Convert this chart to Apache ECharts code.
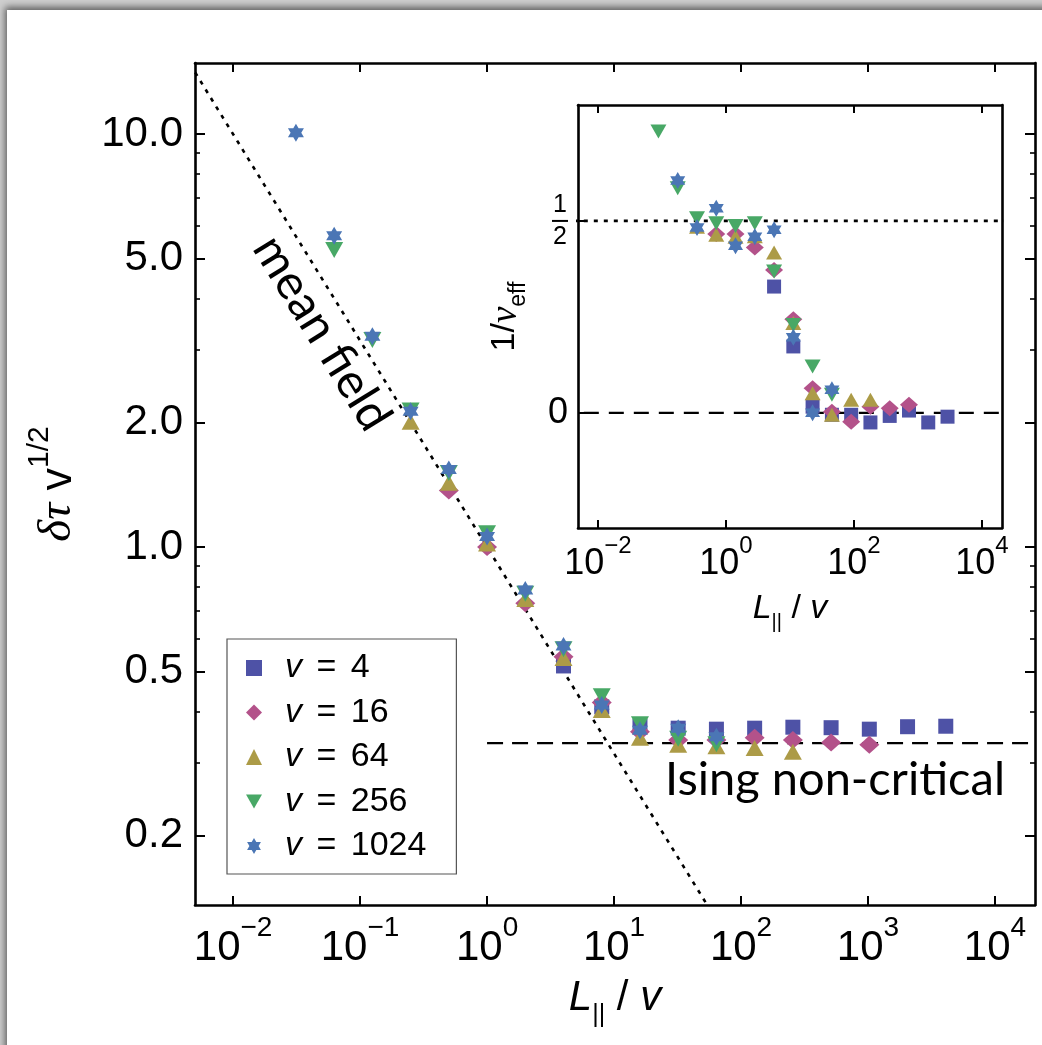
<!DOCTYPE html>
<html>
<head>
<meta charset="utf-8">
<script src="https://cdn.jsdelivr.net/npm/echarts@6/dist/echarts.min.js"></script>
<style>
html, body { margin: 0; padding: 0; width: 1042px; height: 1045px; overflow: hidden; background: #cfcfcf; }
#sheet { position: absolute; left: 7px; top: 10px; width: 1100px; height: 1100px; background: #fff; box-shadow: -2px -3px 7px rgba(0,0,0,0.55); }
#chart { position: absolute; left: 0; top: 0; width: 1042px; height: 1045px; }
</style>
</head>
<body>
<div id="sheet"></div>
<div id="chart"></div>
<script>
// ---- main panel: scaled gap delta-tau * v^(1/2) versus L_par / v ----
const v4X = [4, 8, 16, 32, 64, 128, 256, 512, 1024, 2048, 4096];
const v4Y = [0.515, 0.41, 0.368, 0.364, 0.362, 0.364, 0.366, 0.365, 0.362, 0.367, 0.368];

const v16X = [0.5, 1, 2, 4, 8, 16, 32, 64, 128, 256, 512, 1024];
const v16Y = [1.37, 1.0, 0.731, 0.542, 0.42, 0.357, 0.341, 0.341, 0.345, 0.341, 0.336, 0.332];

const v64X = [0.25, 0.5, 1, 2, 4, 8, 16, 32, 64, 128, 256];
const v64Y = [2.01, 1.43, 1.02, 0.748, 0.538, 0.403, 0.345, 0.332, 0.329, 0.326, 0.319];

const v256X = [0.0625, 0.125, 0.25, 0.5, 1, 2, 4, 8, 16, 32, 64];
const v256Y = [5.24, 3.17, 2.14, 1.51, 1.08, 0.77, 0.565, 0.435, 0.372, 0.343, 0.333];

const v1024X = [0.03125, 0.0625, 0.125, 0.25, 0.5, 1, 2, 4, 8, 16, 32, 64];
const v1024Y = [10.07, 5.67, 3.24, 2.13, 1.54, 1.06, 0.787, 0.576, 0.414, 0.36, 0.364, 0.347];

// reference lines: mean-field power law and the Ising non-critical plateau
const meanFieldLine = [[0.001, 31.6], [1000, 0.0316]];
const isingLine = [[1, 0.335], [100000, 0.335]];

// ---- inset: effective exponent 1/nu_eff versus L_par / v ----
const v4InsetX = [5.66, 11.31, 22.6, 45.3, 90.5, 181, 362, 724, 1448, 2896];
const v4InsetY = [0.329, 0.173, 0.016, -0.005, -0.005, -0.025, -0.008, 0.006, -0.025, -0.01];

const v16InsetX = [0.707, 1.414, 2.83, 5.66, 11.31, 22.6, 45.3, 90.5, 181, 362, 724];
const v16InsetY = [0.466, 0.466, 0.431, 0.372, 0.244, 0.064, 0.003, -0.023, 0.016, 0.012, 0.021];

const v64InsetX = [0.354, 0.707, 1.414, 2.83, 5.66, 11.31, 22.6, 45.3, 90.5, 181];
const v64InsetY = [0.485, 0.464, 0.459, 0.46, 0.418, 0.234, 0.051, -0.005, 0.034, 0.034];

const v256InsetX = [0.0884, 0.177, 0.354, 0.707, 1.414, 2.83, 5.66, 11.31, 22.6, 45.3];
const v256InsetY = [0.733, 0.585, 0.507, 0.494, 0.487, 0.494, 0.368, 0.229, 0.121, 0.047];

const v1024InsetX = [0.0442, 0.0884, 0.177, 0.354, 0.707, 1.414, 2.83, 5.66, 11.31, 22.6, 45.3];
const v1024InsetY = [0.83, 0.81, 0.605, 0.483, 0.533, 0.435, 0.459, 0.477, 0.197, 0.0, 0.06];

const meanFieldExponent = [[0.001, 0.5], [100000, 0.5]];
const zeroExponent = [[0.001, 0], [100000, 0]];

// ---- tick values ----
const mainXTicks = [0.01, 0.1, 1, 10, 100, 1000, 10000];
const mainYTicks = [0.2, 0.5, 1, 2, 5, 10];
const mainYMinor = [0.3, 0.4, 0.6, 0.7, 0.8, 0.9, 3, 4, 6, 7, 8, 9];
const insetXTicks = [0.01, 1, 100, 10000];
const insetYTicks = [0, 0.5];

const seriesNames = ['v = 4', 'v = 16', 'v = 64', 'v = 256', 'v = 1024'];

const zip = (xs, ys) => xs.map((x, i) => [x, ys[i]]);

const SANS = 'Liberation Sans, Arial, Helvetica, sans-serif';
const SERIF = 'Liberation Serif, Times New Roman, serif';
const ANNOT = 'Lato, Open Sans, sans-serif';

const hexagram = 'path://M0,-10L2.887,-5L8.66,-5L5.774,0L8.66,5L2.887,5L0,10L-2.887,5L-8.66,5L-5.774,0L-8.66,-5L-2.887,-5Z';
const downTriangle = 'path://M-10,-8.66L10,-8.66L0,8.66Z';

const styles = [
  { color: '#4E52A6', symbol: 'rect', size: 15, insetSize: 14 },
  { color: '#B3528A', symbol: 'diamond', size: [20, 18], insetSize: [18, 16] },
  { color: '#AC9B47', symbol: 'triangle', size: [18, 16], insetSize: [16, 14] },
  { color: '#48A866', symbol: downTriangle, size: [18, 16], insetSize: [16, 14] },
  { color: '#4B76B5', symbol: hexagram, size: [16, 18], insetSize: [15, 17] }
];

const mainData = [zip(v4X, v4Y), zip(v16X, v16Y), zip(v64X, v64Y), zip(v256X, v256Y), zip(v1024X, v1024Y)];
const insetData = [
  zip(v4InsetX, v4InsetY), zip(v16InsetX, v16InsetY), zip(v64InsetX, v64InsetY),
  zip(v256InsetX, v256InsetY), zip(v1024InsetX, v1024InsetY)
];

function powerLabel(v) {
  const e = Math.round(Math.log10(v));
  return '{b|10}{s|' + (e < 0 ? '\u2212' + (-e) : String(e)) + '}';
}

const AX = { color: '#000', width: 2.6 };

function powRich(base, sup) {
  return {
    b: { fontFamily: SANS, fontSize: base, lineHeight: base * 1.33, verticalAlign: 'bottom', color: '#000' },
    s: { fontFamily: SANS, fontSize: sup, lineHeight: sup, verticalAlign: 'top', color: '#000' }
  };
}

function ratioTitle(size, subSize) {
  return {
    i: { fontFamily: SANS, fontStyle: 'italic', fontSize: size, lineHeight: size * 1.2, verticalAlign: 'top', color: '#000' },
    t: { fontFamily: SANS, fontSize: size, lineHeight: size * 1.2, verticalAlign: 'top', color: '#000' },
    sub: { fontFamily: SANS, fontSize: subSize, lineHeight: subSize, verticalAlign: 'bottom', color: '#000' }
  };
}

const xAxes = [
  { // main bottom
    type: 'log', gridIndex: 0, position: 'bottom', min: 0.005012, max: 20654,
    axisLine: { show: true, onZero: false, lineStyle: AX },
    axisTick: { show: true, inside: true, length: 9, customValues: mainXTicks, lineStyle: { color: '#000', width: 2 } },
    axisLabel: { show: true, customValues: mainXTicks, formatter: powerLabel, margin: 9, rich: powRich(42, 28) },
    splitLine: { show: false }, minorTick: { show: false },
    name: '{i|L}{sub|||}{t| / }{i|v}', nameLocation: 'middle', nameGap: 72,
    nameTextStyle: { rich: ratioTitle(42, 25) }
  },
  { // main top
    type: 'log', gridIndex: 0, position: 'top', min: 0.005012, max: 20654,
    axisLine: { show: true, onZero: false, lineStyle: AX },
    axisTick: { show: true, inside: true, length: 9, customValues: mainXTicks, lineStyle: { color: '#000', width: 2 } },
    axisLabel: { show: false }, splitLine: { show: false }
  },
  { // inset bottom
    type: 'log', gridIndex: 1, position: 'bottom', min: 0.0049, max: 20540,
    axisLine: { show: true, onZero: false, lineStyle: AX },
    axisTick: { show: true, inside: true, length: 8, customValues: insetXTicks, lineStyle: { color: '#000', width: 2 } },
    axisLabel: { show: true, customValues: insetXTicks, formatter: powerLabel, margin: 6, rich: powRich(36, 24) },
    splitLine: { show: false },
    name: '{i|L}{sub|||}{t| / }{i|v}', nameLocation: 'middle', nameGap: 64,
    nameTextStyle: { rich: ratioTitle(34, 20) }
  },
  { // inset top
    type: 'log', gridIndex: 1, position: 'top', min: 0.0049, max: 20540,
    axisLine: { show: true, onZero: false, lineStyle: AX },
    axisTick: { show: true, inside: true, length: 8, customValues: insetXTicks, lineStyle: { color: '#000', width: 2 } },
    axisLabel: { show: false }, splitLine: { show: false }
  }
];

const yAxes = [
  { // main left
    type: 'log', gridIndex: 0, position: 'left', min: 0.1358, max: 14.86,
    axisLine: { show: true, onZero: false, lineStyle: AX },
    axisTick: { show: true, inside: true, length: 10, customValues: mainYTicks, lineStyle: { color: '#000', width: 2 } },
    axisLabel: { show: true, customValues: mainYTicks, formatter: v => v.toFixed(1), margin: 12, fontFamily: SANS, fontSize: 42, color: '#000' },
    splitLine: { show: false },
    name: '{g|\u03b4\u03c4}{t| v}{s|1/2}', nameLocation: 'middle', nameRotate: 90, nameGap: 114,
    nameTextStyle: {
      padding: [0, 0, 0, 0],
      rich: {
        g: { fontFamily: SERIF, fontStyle: 'italic', fontSize: 47, lineHeight: 56, verticalAlign: 'bottom', color: '#000' },
        t: { fontFamily: SANS, fontSize: 45, lineHeight: 56, verticalAlign: 'bottom', color: '#000' },
        s: { fontFamily: SANS, fontSize: 30, lineHeight: 30, verticalAlign: 'top', color: '#000' }
      }
    }
  },
  { // main right
    type: 'log', gridIndex: 0, position: 'right', min: 0.1358, max: 14.86,
    axisLine: { show: true, onZero: false, lineStyle: AX },
    axisTick: { show: true, inside: true, length: 10, customValues: mainYTicks, lineStyle: { color: '#000', width: 2 } },
    axisLabel: { show: false }, splitLine: { show: false }
  },
  { // main left minor ticks
    type: 'log', gridIndex: 0, position: 'left', min: 0.1358, max: 14.86,
    axisLine: { show: false },
    axisTick: { show: true, inside: true, length: 5, customValues: mainYMinor, lineStyle: { color: '#000', width: 1.6 } },
    axisLabel: { show: false }, splitLine: { show: false }
  },
  { // main right minor ticks
    type: 'log', gridIndex: 0, position: 'right', min: 0.1358, max: 14.86,
    axisLine: { show: false },
    axisTick: { show: true, inside: true, length: 5, customValues: mainYMinor, lineStyle: { color: '#000', width: 1.6 } },
    axisLabel: { show: false }, splitLine: { show: false }
  },
  { // inset left
    type: 'value', gridIndex: 1, position: 'left', min: -0.3, max: 0.802,
    axisLine: { show: true, onZero: false, lineStyle: AX },
    axisTick: { show: true, inside: true, length: 8, customValues: insetYTicks, lineStyle: { color: '#000', width: 2 } },
    axisLabel: {
      show: true, customValues: insetYTicks, margin: 10, color: '#000',
      formatter: v => (Math.abs(v) < 1e-9 ? '{z|0}' : '{n|1}\n{bar| }\n{d|2}'),
      rich: {
        z: { fontFamily: SANS, fontSize: 36, color: '#000' },
        n: { fontFamily: SANS, fontSize: 25, lineHeight: 24, align: 'center', color: '#000' },
        d: { fontFamily: SANS, fontSize: 25, lineHeight: 24, align: 'center', color: '#000' },
        bar: { width: 16, height: 2, lineHeight: 8, backgroundColor: '#000', align: 'center', fontSize: 4 }
      }
    },
    splitLine: { show: false },
    name: '{a|1/}{g|\u03bd}{s|eff}', nameLocation: 'middle', nameRotate: 90, nameGap: 48,
    nameTextStyle: {
      rich: {
        a: { fontFamily: SANS, fontSize: 34, lineHeight: 42, verticalAlign: 'top', color: '#000' },
        g: { fontFamily: SERIF, fontStyle: 'italic', fontSize: 37, lineHeight: 42, verticalAlign: 'top', color: '#000' },
        s: { fontFamily: SANS, fontSize: 23, lineHeight: 23, verticalAlign: 'bottom', color: '#000' }
      }
    }
  },
  { // inset right
    type: 'value', gridIndex: 1, position: 'right', min: -0.3, max: 0.802,
    axisLine: { show: true, onZero: false, lineStyle: AX },
    axisTick: { show: false }, axisLabel: { show: false }, splitLine: { show: false }
  }
];

const series = [
  {
    type: 'line', xAxisIndex: 0, yAxisIndex: 0, data: meanFieldLine, symbol: 'none', silent: true, clip: true,
    lineStyle: { color: '#000', width: 2.6, type: [4, 6] }, z: 1
  },
  {
    type: 'line', xAxisIndex: 0, yAxisIndex: 0, data: isingLine, symbol: 'none', silent: true, clip: true,
    lineStyle: { color: '#000', width: 2.2, type: [16, 9] }, z: 1
  },
  {
    type: 'line', xAxisIndex: 2, yAxisIndex: 4, data: meanFieldExponent, symbol: 'none', silent: true, clip: true,
    lineStyle: { color: '#000', width: 2.6, type: [4, 6] }, z: 1
  },
  {
    type: 'line', xAxisIndex: 2, yAxisIndex: 4, data: zeroExponent, symbol: 'none', silent: true, clip: true,
    lineStyle: { color: '#000', width: 2.2, type: [15, 10] }, z: 1
  }
];

styles.forEach((s, i) => {
  series.push({
    name: seriesNames[i], type: 'scatter', xAxisIndex: 0, yAxisIndex: 0, data: mainData[i],
    symbol: s.symbol, symbolSize: s.size, clip: true,
    itemStyle: { color: s.color, opacity: 1 }, z: 2 + i
  });
});
styles.forEach((s, i) => {
  series.push({
    name: seriesNames[i], type: 'scatter', xAxisIndex: 2, yAxisIndex: 4, data: insetData[i],
    symbol: s.symbol, symbolSize: s.insetSize, clip: true,
    itemStyle: { color: s.color, opacity: 1 }, z: 2 + i
  });
});

const legendRich = {
  sp: { width: 18 },
  i: { fontFamily: SANS, fontStyle: 'italic', fontSize: 34, color: '#000', lineHeight: 31 },
  e: { fontFamily: SANS, fontSize: 34, color: '#000', lineHeight: 31, padding: [0, 5, 0, 5] }
};

const chart = echarts.init(document.getElementById('chart'), null, { renderer: 'canvas' });
chart.setOption({
  animation: false,
  backgroundColor: 'transparent',
  grid: [
    { left: 195, top: 63, right: 7, bottom: 140, containLabel: false },
    { left: 578, top: 105, right: 40, bottom: 517, containLabel: false }
  ],
  xAxis: xAxes,
  yAxis: yAxes,
  legend: {
    data: seriesNames.map((n, i) => ({ name: n, icon: styles[i].symbol })),
    orient: 'vertical', left: 227, top: 639,
    itemWidth: 16, itemHeight: 16, itemGap: 10.5,
    padding: [12, 30, 11, 19], borderColor: '#555', borderWidth: 1.2, backgroundColor: '#fff',
    formatter: name => '{sp| }{i|v} {e|=} ' + name.split('= ')[1],
    textStyle: { fontFamily: SANS, fontSize: 34, color: '#000', lineHeight: 31, rich: legendRich },
    selectedMode: false
  },
  graphic: [
    {
      type: 'text', x: 322, y: 333, rotation: -58.4 * Math.PI / 180, silent: true,
      style: { text: 'mean field', font: '48px ' + ANNOT, fill: '#000', align: 'center', verticalAlign: 'middle' }
    },
    {
      type: 'text', x: 835, y: 780, silent: true,
      style: { text: 'Ising non-critical', font: '47px ' + ANNOT, fill: '#000', align: 'center', verticalAlign: 'middle' }
    }
  ],
  series: series
});
</script>
</body>
</html>
